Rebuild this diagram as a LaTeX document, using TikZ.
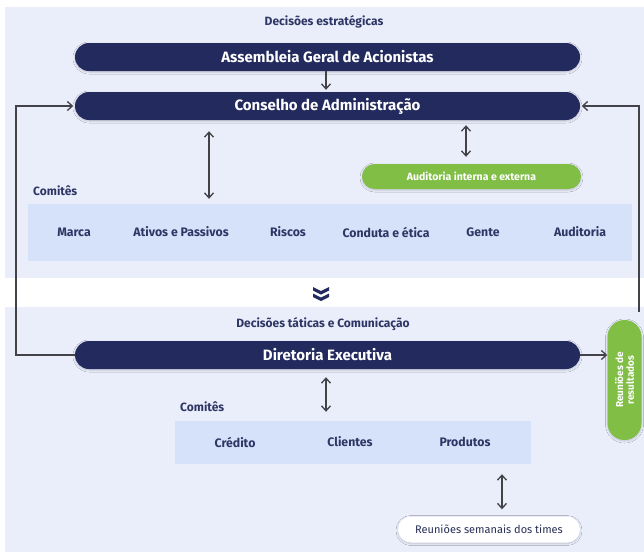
\documentclass[tikz,border=0pt]{standalone}
\usepackage{fontspec}
\setmainfont{Fira Sans}
\usetikzlibrary{arrows.meta,shapes.misc,calc,shadows.blur}
\definecolor{navy}{RGB}{34,42,94}
\definecolor{gr}{RGB}{128,190,70}
\definecolor{bgc}{RGB}{234,238,251}
\definecolor{bandc}{RGB}{214,226,250}
\definecolor{tnavy}{RGB}{45,54,100}
\definecolor{arrc}{RGB}{66,66,72}
\begin{document}
\begin{tikzpicture}[x=1pt,y=-1pt,
  shd/.style={blur shadow={shadow blur steps=6, shadow xshift=0pt, shadow yshift=-1pt, shadow opacity=18, shadow blur radius=2pt}},
  bar/.style={rounded rectangle, fill=navy, text=white, minimum width=505pt, minimum height=28pt, inner sep=0pt, shd, font=\bfseries\fontsize{15}{18}\selectfont},
  gpill/.style={rounded rectangle, fill=gr, text=white, minimum width=219pt, minimum height=25pt, inner sep=0pt, shd, font=\bfseries\fontsize{10.5}{12}\selectfont},
  vpill/.style={rectangle, rounded corners=16.9pt, fill=gr, text=white, minimum width=34pt, minimum height=120pt, inner sep=0pt, shd, font=\bfseries\fontsize{10}{10.5}\selectfont},
  wpill/.style={rounded rectangle, fill=white, text=tnavy!85!black, minimum width=182pt, minimum height=26pt, inner sep=0pt, shd, font=\fontsize{11}{13}\selectfont},
  band/.style={rectangle, fill=bandc, inner sep=0pt},
  lbl/.style={text=tnavy, inner sep=0pt, font=\bfseries\fontsize{12}{14}\selectfont},
  ctext/.style={text=tnavy, inner sep=0pt, font=\bfseries\fontsize{12.3}{14}\selectfont},
  tip/.tip={Straight Barb[length=5pt,width=9pt]},
  arr/.style={draw=arrc, line width=1.3pt, -tip},
  dbl/.style={draw=arrc, line width=1.3pt, tip-tip}
]
\useasboundingbox (0,0) rectangle (644,552);
\fill[white] (0,0) rectangle (644,552);
\fill[bgc] (5,7) rectangle (644,278);
\fill[bgc] (5,307) rectangle (644,552);

% top section
\node[lbl] (ds) at (324,22) {Decisões estratégicas};
\node[bar] (agm) at (327.5,57) {Assembleia Geral de Acionistas};
\node[bar] (cons) at (327.5,106) {Conselho de Administração};
\node[gpill] (aud) at (471.5,176.5) {Auditoria interna e externa};
\node[lbl, anchor=west] (com1) at (33,191) {Comitês};
\node[band, minimum width=604pt, minimum height=57pt] (band1) at (330,232.5) {};
\node[ctext] (c11) at (74,232) {Marca};
\node[ctext] (c12) at (181,232) {Ativos e Passivos};
\node[ctext] (c13) at (288,232) {Riscos};
\node[ctext] (c14) at (386,232) {Conduta e ética};
\node[ctext] (c15) at (483,232) {Gente};
\node[ctext] (c16) at (580,232) {Auditoria};

% chevron
\coordinate (chev) at (321,293);
\begin{scope}[shift={(chev)}]
  \fill[navy] (-8,-6) -- (0,-2) -- (8,-6) -- (8,-2.5) -- (0,1.5) -- (-8,-2.5) -- cycle;
  \fill[navy] (-8,0.5) -- (0,4.5) -- (8,0.5) -- (8,4) -- (0,8) -- (-8,4) -- cycle;
\end{scope}

% bottom section
\node[lbl] (dt) at (323,324) {Decisões táticas e Comunicação};
\node[bar] (dir) at (327.5,355) {Diretoria Executiva};
\node[vpill] (reun) at (624.5,380) {\rotatebox{90}{\shortstack{Reuniões de\\resultados}}};
\node[lbl, anchor=west] (com2) at (180,407) {Comitês};
\node[band, minimum width=356pt, minimum height=43pt] (band2) at (353,442.5) {};
\node[ctext] (c21) at (235,442) {Crédito};
\node[ctext] (c22) at (350,442) {Clientes};
\node[ctext] (c23) at (465,442) {Produtos};
\node[wpill] (sem) at (489,529.5) {Reuniões semanais dos times};

% connector columns
\coordinate (xa) at (209,0);
\coordinate (xb) at (466,0);
\coordinate (xc) at (326,0);
\coordinate (xd) at (502,0);
\coordinate (xl) at (16,0);
\coordinate (xr) at (639,0);

\draw[arr, shorten >=2pt] (agm.south -| xc) -- (cons.north -| xc);
\draw[dbl, shorten <=11pt, shorten >=5pt] (cons.south -| xa) -- (band1.north -| xa);
\draw[dbl, shorten <=5pt, shorten >=7pt] (cons.south -| xb) -- (aud.north -| xb);
\draw[arr, shorten >=1.5pt] (dir.west) -- (dir.west -| xl) |- (cons.west);
\draw[arr] (dir.east) -- (dir.east -| reun.west);
\draw[arr, shorten <=8pt, shorten >=1.5pt] (reun.north -| xr) |- (cons.east);
\draw[dbl, shorten <=8pt, shorten >=9pt] (dir.south -| xc) -- (band2.north -| xc);
\draw[dbl, shorten <=10pt, shorten >=7pt] (band2.south -| xd) -- (sem.north -| xd);
\end{tikzpicture}
\end{document}
